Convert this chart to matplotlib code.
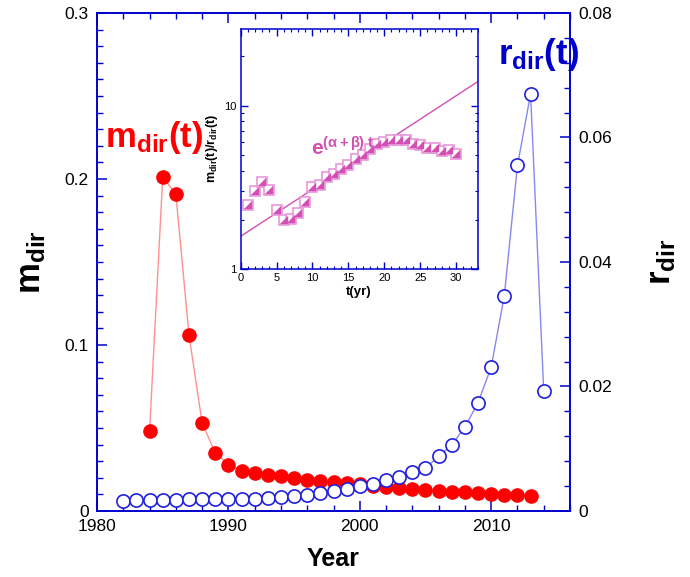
import numpy as np
import matplotlib
matplotlib.use("Agg")
import matplotlib.pyplot as plt
from matplotlib.ticker import MultipleLocator, LogLocator, FixedLocator, NullFormatter

plt.rcParams["font.family"] = ["Liberation Sans", "DejaVu Sans"]
plt.rcParams["mathtext.fontset"] = "custom"
plt.rcParams["mathtext.rm"] = "Liberation Sans"
plt.rcParams["mathtext.it"] = "Liberation Sans:italic"
plt.rcParams["mathtext.bf"] = "Liberation Sans:bold"

# ── Data ────────────────────────────────────────────────────────────────
m_years = np.arange(1984, 2014)
m_dir = [0.048, 0.201, 0.191, 0.106, 0.053, 0.035, 0.028, 0.0238, 0.0226, 0.0218,
         0.021, 0.0198, 0.0188, 0.018, 0.0172, 0.0168, 0.016, 0.0148, 0.0142, 0.0136,
         0.0132, 0.0126, 0.012, 0.0114, 0.0112, 0.0108, 0.0104, 0.0098, 0.0094, 0.0088]

r_years = np.arange(1982, 2015)
r_dir = [0.0016, 0.0017, 0.0017, 0.0018, 0.0018, 0.0019, 0.0019, 0.0019, 0.0020, 0.0020,
         0.0020, 0.0021, 0.0022, 0.0024, 0.0026, 0.0029, 0.0032, 0.0035, 0.0040, 0.0044,
         0.0050, 0.0054, 0.0063, 0.0069, 0.0088, 0.0106, 0.0135, 0.0174, 0.0231, 0.0346,
         0.0555, 0.0670, 0.0192]

# ratio m_dir/r_dir against years since start
t_yr = np.arange(1, 31)
ratio = [2.48, 2.99, 3.41, 3.06, 2.29, 2.00, 2.02, 2.20, 2.57, 3.16,
         3.28, 3.66, 3.82, 4.11, 4.33, 4.71, 4.99, 5.45, 5.80, 5.99,
         6.19, 6.16, 6.13, 5.85, 5.77, 5.48, 5.50, 5.25, 5.33, 5.08]

# exponential growth fit  A * exp((alpha+beta) t)
fit_amp = 1.585
fit_rate = 0.066

BLUE_AX = "#0000cc"
RED = "#ff0000"
RED_LINE = "#ff9090"
BLUE = "#2020dd"
BLUE_LINE = "#8888ee"
MAG = "#d24fb4"
MAG_EDGE = "#e897dc"

# ── Main panel ──────────────────────────────────────────────────────────
fig = plt.figure(figsize=(6.9, 5.77), dpi=100)
ax = fig.add_axes([0.1406, 0.1144, 0.6855, 0.8631])
ax2 = ax.twinx()

ax.plot(m_years, m_dir, "-", color=RED_LINE, lw=1.0, zorder=2)
ax.plot(m_years, m_dir, "o", color=RED, ms=9.5, mec=RED, zorder=3)

ax2.plot(r_years, r_dir, "-", color=BLUE_LINE, lw=1.0, zorder=2)
ax2.plot(r_years, r_dir, "o", mfc="white", mec=BLUE, mew=1.2, ms=9.5, zorder=3)

ax.set_xlim(1980, 2016)
ax.set_ylim(0, 0.3)
ax2.set_ylim(0, 0.08)

ax.xaxis.set_major_locator(FixedLocator([1980, 1990, 2000, 2010]))
ax.xaxis.set_minor_locator(MultipleLocator(2))
ax.yaxis.set_major_locator(MultipleLocator(0.1))
ax.yaxis.set_minor_locator(MultipleLocator(0.01))
ax2.yaxis.set_major_locator(MultipleLocator(0.02))
ax2.yaxis.set_minor_locator(MultipleLocator(0.004))
ax.yaxis.set_major_formatter(plt.FuncFormatter(lambda v, p: "0" if v == 0 else f"{v:g}"))
ax2.yaxis.set_major_formatter(plt.FuncFormatter(lambda v, p: "0" if v == 0 else f"{v:g}"))

for a in (ax, ax2):
    for s in a.spines.values():
        s.set_color(BLUE_AX)
        s.set_linewidth(1.2)
ax.tick_params(which="both", direction="in", colors=BLUE_AX, labelcolor="black",
               top=True, right=False, labelsize=12.5, pad=6)
ax.tick_params(which="major", length=7, width=1.1)
ax.tick_params(which="minor", length=4, width=1.0)
ax2.tick_params(which="both", direction="in", colors=BLUE_AX, labelcolor="black",
                labelsize=12.5, pad=6)
ax2.tick_params(which="major", length=7, width=1.1)
ax2.tick_params(which="minor", length=4, width=1.0)

ax.set_xlabel("Year", fontsize=18, fontweight="bold", labelpad=9)
ax.set_ylabel(r"$\mathbf{m_{dir}}$", fontsize=25, labelpad=12)
ax2.set_ylabel(r"$\mathbf{r_{dir}}$", fontsize=25, labelpad=24)

ax.text(1980.6, 0.225, r"$\mathbf{m_{dir}(t)}$", color=RED, fontsize=25,
        va="center", ha="left")
ax.text(2010.5, 0.275, r"$\mathbf{r_{dir}(t)}$", color=BLUE_AX, fontsize=25,
        va="center", ha="left")

# ── Inset: ratio on log scale ───────────────────────────────────────────
ins = fig.add_axes([0.3488, 0.5338, 0.3435, 0.4168])
tt = np.linspace(0, 33, 100)
ins.plot(tt, fit_amp * np.exp(fit_rate * tt), "-", color=MAG, lw=1.0, zorder=2)
ins.plot(t_yr, ratio, "s", mfc="white", mec=MAG_EDGE, mew=1.2, ms=7, zorder=3)
ins.plot(t_yr, ratio, marker=[(-1, -1), (1, -1), (1, 1)], ls="none",
         color=MAG, mec=MAG, mew=0.3, ms=6, zorder=4)

ins.set_yscale("log")
ins.set_xlim(0, 33)
ins.set_ylim(1, 29.6)
ins.xaxis.set_major_locator(MultipleLocator(5))
ins.xaxis.set_minor_locator(MultipleLocator(1))
ins.yaxis.set_major_locator(FixedLocator([1, 10]))
ins.yaxis.set_major_formatter(plt.FuncFormatter(lambda v, p: f"{v:g}"))
ins.yaxis.set_minor_locator(LogLocator(base=10, subs=np.arange(2, 10)))
ins.yaxis.set_minor_formatter(NullFormatter())
for s in ins.spines.values():
    s.set_color(BLUE_AX)
    s.set_linewidth(1.1)
ins.tick_params(which="both", direction="in", colors=BLUE_AX, labelcolor="black",
                top=True, right=True, labelsize=8, pad=3)
ins.tick_params(which="major", length=5, width=1.0)
ins.tick_params(which="minor", length=2.5, width=0.8)
ins.set_xlabel("t(yr)", fontsize=9.5, fontweight="bold", labelpad=2)
ins.set_ylabel(r"$\mathbf{m_{dir}(t)/r_{dir}(t)}$", fontsize=9, labelpad=3)
ins.text(9.8, 5.5, r"$\mathbf{e^{(\alpha+\beta)\ t}}$", color=MAG, fontsize=15,
         va="center", ha="left")

fig.savefig("out.png", dpi=100)
